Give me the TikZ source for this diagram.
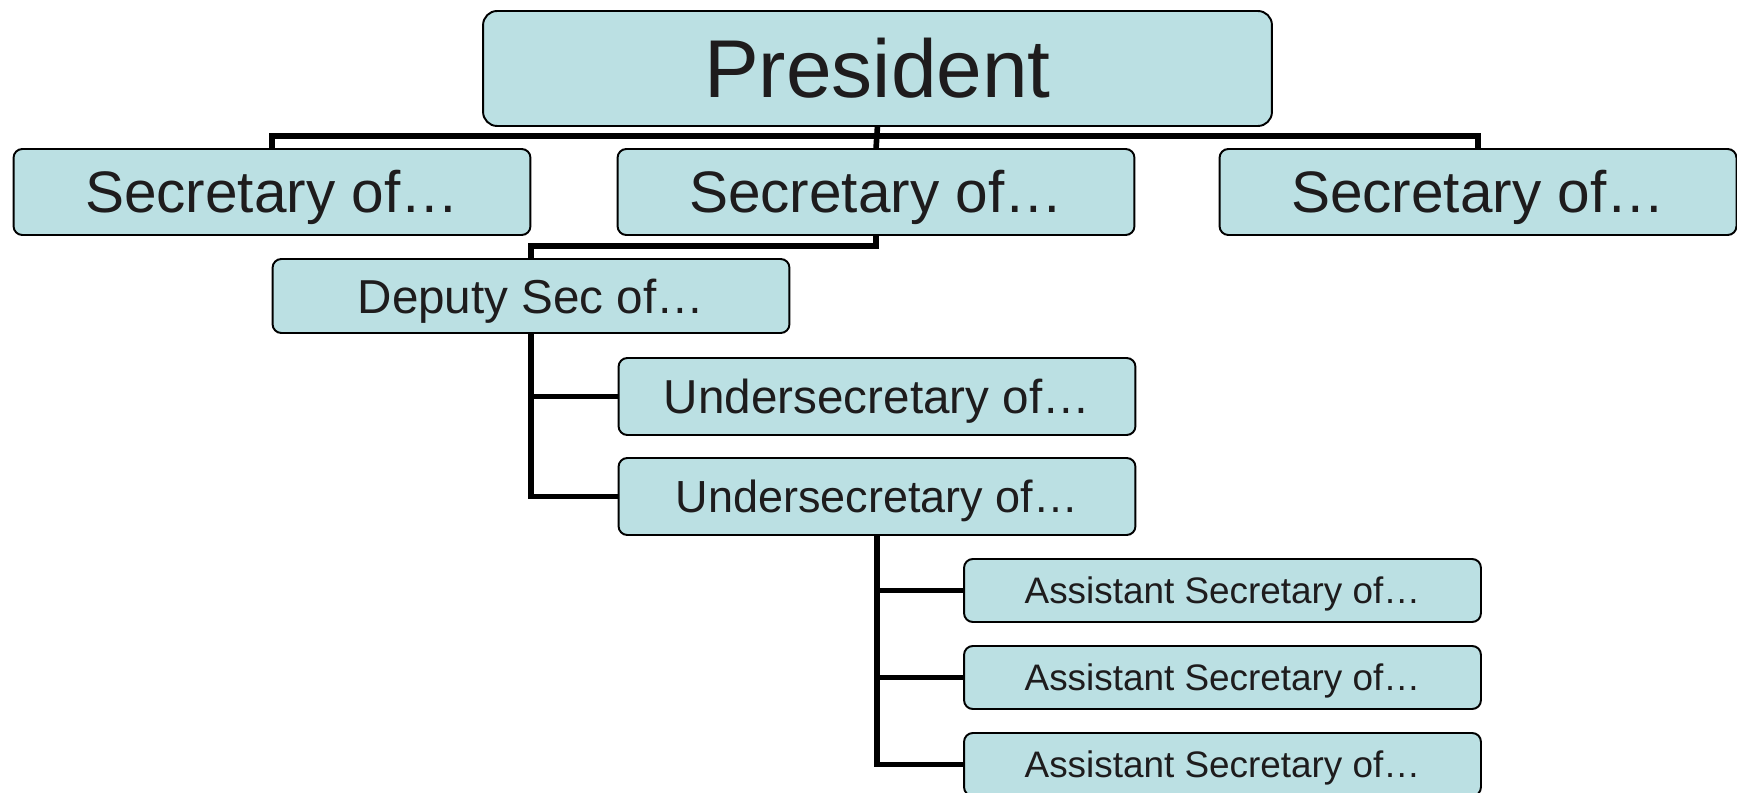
\documentclass[tikz,border=0pt]{standalone}
\usepackage{fontspec}
\setmainfont{Liberation Sans}
\definecolor{boxfill}{RGB}{187,224,227}
\definecolor{boxtext}{RGB}{30,28,29}

\begin{document}
\begin{tikzpicture}[x=0.02cm,y=-0.02cm,
  box/.style={draw=black,line width=1.1pt,fill=boxfill,text=boxtext,rounded corners=5pt,
    inner sep=0pt,outer sep=0pt,minimum width=10.34cm},
  fs/.style={font=\fontsize{#1pt}{#1pt}\selectfont,text height={0.716*#1pt},text depth=0pt},
  link/.style={draw=black,line width=3.2pt}]
\useasboundingbox (0,0) rectangle (1737,793);
\node[box,fs=46.7,rounded corners=8pt,minimum width=15.78cm,minimum height=2.3cm] (pres) at (877.5,68.5) {President};
\node[box,fs=33.3,minimum height=1.72cm] (sec1) at (272,192) {Secretary of…};
\node[box,fs=33.3,minimum height=1.72cm] (sec2) at (876,192) {Secretary of…};
\node[box,fs=33.3,minimum height=1.72cm] (sec3) at (1478,192) {Secretary of…};
\node[box,fs=27.1,minimum height=1.48cm] (dep) at (531,296) {Deputy Sec of…};
\node[box,fs=27.1,minimum height=1.54cm] (under1) at (877,396.5) {Undersecretary of…};
\node[box,fs=25.6,minimum height=1.54cm] (under2) at (877,496.5) {Undersecretary of…};
\node[box,fs=21,minimum height=1.26cm] (asst1) at (1222.5,590.5) {Assistant Secretary of…};
\node[box,fs=21,minimum height=1.26cm] (asst2) at (1222.5,677.5) {Assistant Secretary of…};
\node[box,fs=21,minimum height=1.26cm] (asst3) at (1222.5,764.5) {Assistant Secretary of…};
\coordinate (top) at (877,136);
\coordinate (depjoin) at (531,246);
\draw[link] (sec1.north) |- (top) -| (sec3.north);
\draw[link] (pres.south) -- (sec2.north);
\draw[link] (sec2.south) |- (depjoin) -- (dep.north);
\draw[link] (dep.south) |- (under2.west);
\draw[link] (dep.south |- under1.west) -- (under1.west);
\draw[link] (under2.south) |- (asst3.west);
\draw[link] (under2.south |- asst1.west) -- (asst1.west);
\draw[link] (under2.south |- asst2.west) -- (asst2.west);
\end{tikzpicture}
\end{document}
